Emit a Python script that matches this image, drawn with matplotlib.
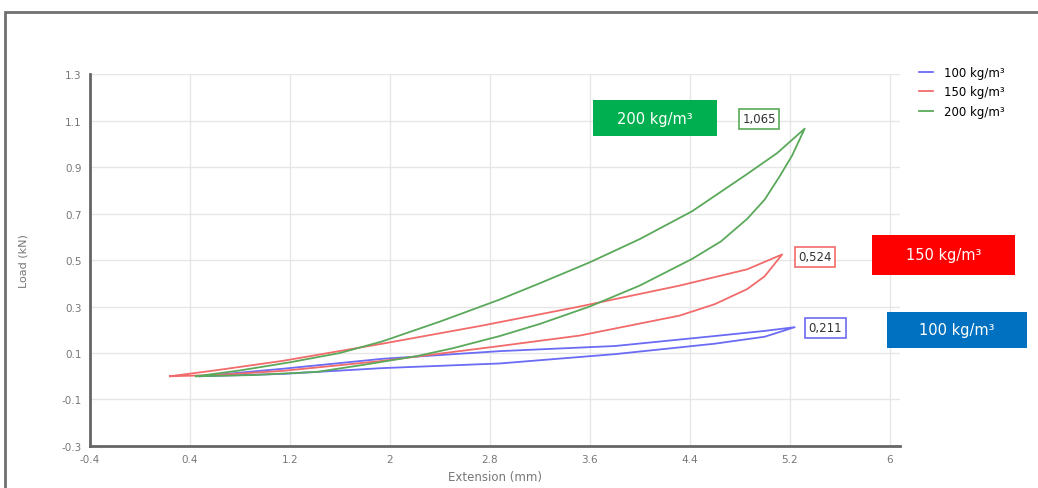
import matplotlib.pyplot as plt
from matplotlib.patches import Rectangle

# 100 kg/m3 loop: loading branch then unloading branch
x100_load = [0.48, 1.14, 1.94, 2.88, 3.8, 4.6, 5.0, 5.24]
y100_load = [0.0, 0.01, 0.035, 0.055, 0.095, 0.14, 0.17, 0.211]
x100_unload = [5.24, 5.0, 4.6, 3.8, 2.88, 1.94, 1.14, 0.48]
y100_unload = [0.211, 0.195, 0.173, 0.13, 0.108, 0.075, 0.032, 0.0]

# 150 kg/m3
x150_load = [0.24, 0.6, 1.14, 1.94, 2.88, 3.52, 4.32, 4.6, 4.86, 5.0, 5.14]
y150_load = [0.0, 0.005, 0.023, 0.066, 0.13, 0.175, 0.261, 0.31, 0.375, 0.43, 0.524]
x150_unload = [5.14, 4.86, 4.32, 3.52, 2.72, 1.94, 1.14, 0.6, 0.24]
y150_unload = [0.524, 0.46, 0.39, 0.30, 0.216, 0.14, 0.066, 0.025, 0.0]

# 200 kg/m3
x200_load = [0.45, 0.9, 1.42, 1.8, 2.22, 2.5, 2.88, 3.2, 3.6, 4.0, 4.42, 4.65, 4.86, 5.0, 5.12, 5.22, 5.32]
y200_load = [0.0, 0.005, 0.019, 0.05, 0.087, 0.12, 0.173, 0.225, 0.30, 0.39, 0.505, 0.58, 0.677, 0.76, 0.86, 0.95, 1.065]
x200_unload = [5.32, 5.1, 4.86, 4.42, 4.0, 3.6, 3.2, 2.88, 2.4, 1.94, 1.6, 1.2, 0.8, 0.45]
y200_unload = [1.065, 0.96, 0.87, 0.71, 0.59, 0.49, 0.40, 0.33, 0.235, 0.15, 0.10, 0.06, 0.025, 0.0]

labels = ["100 kg/m³", "150 kg/m³", "200 kg/m³"]
peaks = ["0,211", "0,524", "1,065"]
line_colors = ["#6b6bf5", "#f26b6b", "#5aa95a"]
box_colors = ["#0070c0", "#ff0000", "#00b050"]

xticks = [-0.4, 0.4, 1.2, 2, 2.8, 3.6, 4.4, 5.2, 6]
yticks = [-0.3, -0.1, 0.1, 0.3, 0.5, 0.7, 0.9, 1.1, 1.3]

fig = plt.figure(figsize=(10.38, 4.89), dpi=100)
ax = fig.add_axes([0.0867, 0.0859, 0.780, 0.7607])

# outer frame of the screenshot
fig.patches.append(Rectangle((0.005, -0.05), 1.2, 1.05 - 13 / 489, transform=fig.transFigure,
                             fill=False, edgecolor="#707070", linewidth=2))

series = [
    (x100_load + x100_unload, y100_load + y100_unload),
    (x150_load + x150_unload, y150_load + y150_unload),
    (x200_load + x200_unload, y200_load + y200_unload),
]
for (xs, ys), c, lab in zip(series, line_colors, labels):
    ax.plot(xs, ys, color=c, linewidth=1.3, label=lab)

ax.set_xlim(-0.4, 6.08)
ax.set_ylim(-0.3, 1.3)
ax.set_xticks(xticks)
ax.set_yticks(yticks)
ax.set_xticklabels([str(t) for t in xticks])
ax.set_yticklabels([str(t) for t in yticks])
ax.grid(True, color="#e6e6e6", linewidth=1)
ax.tick_params(length=0, labelsize=7.5, colors="#777777", pad=6)
for s in ["top", "right"]:
    ax.spines[s].set_visible(False)
for s in ["left", "bottom"]:
    ax.spines[s].set_color("#666666")
    ax.spines[s].set_linewidth(2)
ax.set_xlabel("Extension (mm)", fontsize=8.5, color="#777777", labelpad=4)
ax.set_ylabel("Load (kN)", fontsize=8, color="#777777", labelpad=24)

# peak value boxes (left edge, centre height)
peak_pos = [(5.35, 0.208), (5.27, 0.513), (4.82, 1.107)]
for (px, py), txt, c in zip(peak_pos, peaks, line_colors):
    ax.text(px, py, txt, fontsize=8.5, color="#333333", ha="left", va="center",
            bbox=dict(boxstyle="square,pad=0.3", facecolor="white", edgecolor=c, linewidth=1.2))

# density label boxes: centre x, centre y, width, height (data units)
lab_box = [(6.54, 0.199, 1.12, 0.159), (6.43, 0.522, 1.14, 0.172), (4.12, 1.11, 0.99, 0.155)]
for (cx, cy, w, h), txt, c in zip(lab_box, labels, box_colors):
    ax.add_patch(Rectangle((cx - w / 2, cy - h / 2), w, h, facecolor=c, edgecolor="none",
                           clip_on=False, zorder=3))
    ax.text(cx, cy, txt, fontsize=10.5, color="white", ha="center", va="center",
            clip_on=False, zorder=4)

fig.legend(loc="upper left", bbox_to_anchor=(0.875, 0.885), fontsize=8.5, frameon=False,
           handlelength=1.2, labelspacing=0.55, handletextpad=0.9)

fig.savefig("out.png", dpi=100)
